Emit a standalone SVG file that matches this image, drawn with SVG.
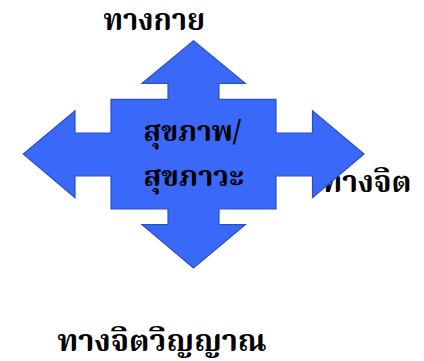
<svg xmlns="http://www.w3.org/2000/svg" width="424" height="361" viewBox="0 0 424 361">
<style>
.t{font-family:"Noto Serif Thai","Noto Sans Thai Looped","Norasi","Garuda","DejaVu Serif",serif;font-weight:bold;font-size:30px;fill:#000}
.c{font-size:28px}
.arrow{fill:#3a68f8;stroke:#2a50c4;stroke-width:1.2;stroke-linejoin:miter}
</style>
<rect width="424" height="361" fill="#fff"/>
<g id="label-top"><text class="t" x="103.5" y="29.5" textLength="101.5" lengthAdjust="spacingAndGlyphs">ทางกาย</text></g>
<g id="label-right"><text class="t" x="411.5" y="191.5" text-anchor="end">ทางจิต</text></g>
<g id="label-bottom"><text class="t" x="57.5" y="351" textLength="209" lengthAdjust="spacingAndGlyphs">ทางจิตวิญญาณ</text></g>
<g id="connectors">
<path class="arrow" d="M193.5,40.7 L245.3,83.3 L219,83.3 L219,99.3 L276,99.3 L276,133 L312.5,133 L312.5,110.8 L364,154 L312.5,197.8 L312.5,175.8 L276,175.8 L276,209 L219,209 L219,224.7 L245.3,224.7 L193.5,268 L142,224.7 L168,224.7 L168,209 L111,209 L111,175.8 L75,175.8 L75,197.8 L23.3,154 L75,110.8 L75,133 L111,133 L111,99.3 L168,99.3 L168,83.3 L142,83.3 Z"/>
</g>
<g id="center">
<text class="t c" x="143.5" y="141" textLength="97.5" lengthAdjust="spacingAndGlyphs">สุขภาพ/</text>
<text class="t c" x="143.5" y="186" textLength="100.5" lengthAdjust="spacingAndGlyphs">สุขภาวะ</text>
</g>
</svg>
